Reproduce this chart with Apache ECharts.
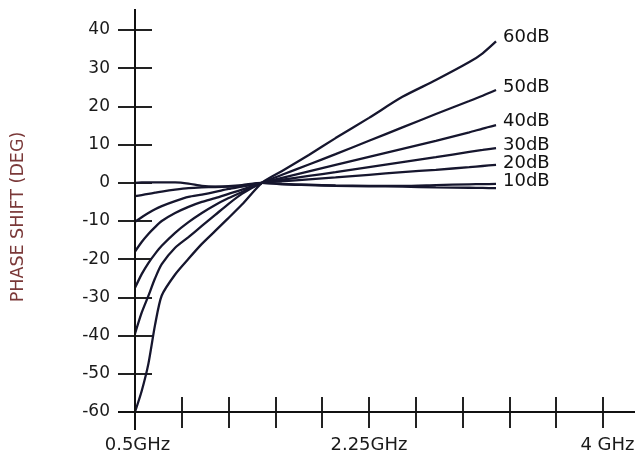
<!DOCTYPE html>
<html>
<head>
<meta charset="utf-8">
<script src="https://cdn.jsdelivr.net/npm/echarts@6/dist/echarts.min.js"></script>
<style>html,body{margin:0;padding:0;background:#fff}#c{width:639px;height:460px}</style>
</head>
<body>
<div id="c"></div>
<script>
// ---- data ----
const freqGHz = [0.5, 0.55, 0.6, 0.65, 0.7, 0.8, 0.9, 1.0, 1.1, 1.2, 1.3, 1.45, 1.6, 1.8, 2.0, 2.25, 2.5, 2.75, 3.0, 3.1, 3.2];
const s60dB = [-60, -54.5, -47.4, -37.2, -29.5, -24, -19.9, -16, -12.6, -9.2, -5.7, 0, 3.1, 7.3, 11.7, 17, 22.5, 26.9, 31.6, 33.9, 37];
const s50dB = [-39.5, -34, -29.6, -25, -21.3, -17, -14.2, -11.3, -8.4, -5.5, -2.9, 0, 2.1, 4.8, 7.5, 11, 14.5, 18, 21.4, 22.8, 24.3];
const s40dB = [-27.5, -23.9, -21, -18.6, -16.5, -13.1, -10.3, -7.9, -5.8, -4, -2.4, 0, 1.3, 3, 4.7, 6.8, 8.9, 11, 13.2, 14.2, 15.1];
const s30dB = [-18, -15.5, -13.4, -11.6, -10, -7.9, -6.3, -5, -4, -2.9, -1.8, 0, 0.8, 1.8, 2.8, 4.1, 5.4, 6.7, 8.1, 8.6, 9.1];
const s20dB = [-10.2, -9, -7.9, -6.9, -6.1, -4.8, -3.7, -3.1, -2.4, -1.6, -1, 0, 0.4, 0.9, 1.4, 2.1, 2.8, 3.4, 4.1, 4.4, 4.7];
const s10dB = [-3.5, -3.2, -2.9, -2.6, -2.3, -1.8, -1.4, -1.2, -1.1, -0.9, -0.6, 0, -0.3, -0.5, -0.7, -0.8, -0.8, -0.6, -0.4, -0.35, -0.3];
const s0dB  = [0, 0.1, 0.1, 0.1, 0.1, 0.1, -0.2, -0.8, -1, -1, -0.8, 0, -0.4, -0.6, -0.8, -0.9, -1.0, -1.2, -1.3, -1.35, -1.4];
const seriesNames = ['60dB', '50dB', '40dB', '30dB', '20dB', '10dB', ''];
const seriesValues = [s60dB, s50dB, s40dB, s30dB, s20dB, s10dB, s0dB];
const xMin = 0.5, xMax = 4, xStep = 0.35;
const yMin = -60, yMax = 40, yStep = 10;
const xLabelValues = [0.5, 2.25, 4];
const xLabelTexts = ['0.5GHz', '2.25GHz', '4 GHz'];
const yTitle = 'PHASE SHIFT (DEG)';

// ---- styles ----
const labelOffsetsY = [-4, -2.5, -3.5, -3, -1.5, -2.5, 0];
const lineColor = '#16162e';
const axisColor = '#111';
const tickColor = '#222';
const font = 'DejaVu Sans';

const chart = echarts.init(document.getElementById('c'), null, {renderer: 'canvas'});

function xLabel(v) {
  for (let i = 0; i < xLabelValues.length; i++) {
    if (Math.abs(v - xLabelValues[i]) < 1e-6) {
      if (i === 0) return '{l|' + xLabelTexts[i] + '}';
      if (i === xLabelValues.length - 1) return '{r|' + xLabelTexts[i] + '}';
      return xLabelTexts[i];
    }
  }
  return '';
}

const series = seriesValues.map((vals, i) => ({
  type: 'line',
  name: seriesNames[i],
  data: freqGHz.map((f, k) => [f, vals[k]]),
  xAxisIndex: 0,
  yAxisIndex: 0,
  showSymbol: false,
  symbol: 'none',
  smooth: 0.25,
  lineStyle: {color: lineColor, width: 2.3},
  silent: true,
  endLabel: {
    show: seriesNames[i] !== '',
    formatter: seriesNames[i],
    distance: 7,
    offset: [0, labelOffsetsY[i]],
    fontSize: 18,
    fontFamily: font,
    color: '#111'
  }
}));

chart.setOption({
  animation: false,
  backgroundColor: '#fff',
  grid: {left: 135, top: 30, width: 468, height: 382, containLabel: false},
  xAxis: [
    {
      type: 'value', min: xMin, max: xMax, interval: xStep, position: 'bottom',
      axisLine: {show: true, onZero: false, lineStyle: {color: axisColor, width: 2}},
      axisTick: {show: true, inside: true, length: 15, lineStyle: {color: tickColor, width: 2}},
      axisLabel: {
        show: true, margin: 24, fontSize: 18, fontFamily: font, color: '#1a1a1a',
        formatter: xLabel,
        rich: {
          r: {fontSize: 18, fontFamily: font, color: '#1a1a1a', padding: [0, 0, 0, 9]},
          l: {fontSize: 18, fontFamily: font, color: '#1a1a1a', padding: [0, 0, 0, 5]}
        }
      },
      splitLine: {show: false}
    },
    {
      type: 'value', min: xMin, max: xMax, interval: xStep, position: 'bottom',
      axisLine: {show: false, onZero: false},
      axisTick: {show: true, inside: false, length: 16, lineStyle: {color: tickColor, width: 2}},
      axisLabel: {show: false},
      splitLine: {show: false}
    }
  ],
  yAxis: [
    {
      type: 'value', min: yMin, max: yMax, interval: yStep, position: 'left',
      axisLine: {show: true, onZero: false, lineStyle: {color: axisColor, width: 2}},
      axisTick: {show: true, inside: true, length: 17, lineStyle: {color: tickColor, width: 2}},
      axisLabel: {show: false},
      splitLine: {show: false}
    },
    {
      type: 'value', min: yMin, max: yMax, interval: yStep, position: 'left',
      axisLine: {show: false, onZero: false},
      axisTick: {show: true, inside: false, length: 17, lineStyle: {color: tickColor, width: 2}},
      axisLabel: {show: true, margin: 25, fontSize: 17, fontFamily: font, color: '#1a1a1a'},
      splitLine: {show: false},
      name: yTitle, nameLocation: 'middle', nameGap: 108, nameRotate: 90,
      nameTextStyle: {fontSize: 17.5, fontFamily: font, color: '#7a3838', padding: [0, 0, 0, 8]}
    }
  ],
  series: series
});

// extend the axis lines past the plotting area, as in the reference
const pOrigin = chart.convertToPixel({gridIndex: 0}, [xMin, yMin]);
const pTop = chart.convertToPixel({gridIndex: 0}, [xMin, yMax]);
const pRight = chart.convertToPixel({gridIndex: 0}, [xMax, yMin]);
chart.setOption({
  graphic: [
    {type: 'line', silent: true, z: 10,
     shape: {x1: pOrigin[0], y1: pTop[1] - 21, x2: pOrigin[0], y2: pOrigin[1] + 18},
     style: {stroke: axisColor, lineWidth: 2}},
    {type: 'line', silent: true, z: 10,
     shape: {x1: pOrigin[0] - 17, y1: pOrigin[1], x2: pRight[0] + 32, y2: pOrigin[1]},
     style: {stroke: axisColor, lineWidth: 2}}
  ]
});
</script>
</body>
</html>
